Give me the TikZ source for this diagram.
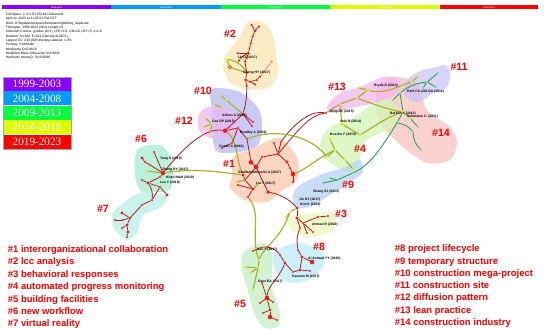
\documentclass[tikz,border=0pt]{standalone}
\usepackage{fontspec}
\setmainfont{Liberation Sans}
\newfontfamily\yearfont{Liberation Serif}
\usepackage{tikz}
\usetikzlibrary{positioning}

\definecolor{dotred}{RGB}{235,25,25}
\definecolor{dotyellow}{RGB}{222,240,0}
\definecolor{dotgreen}{RGB}{40,220,70}
\definecolor{linkred}{RGB}{170,25,25}
\definecolor{linkolive}{RGB}{168,178,50}
\definecolor{linkgreen}{RGB}{35,160,70}
\definecolor{yrpurple}{RGB}{140,0,255}
\definecolor{yrblue}{RGB}{0,155,255}
\definecolor{yrgreen}{RGB}{0,255,60}
\definecolor{yryellow}{RGB}{220,255,0}
\definecolor{yrred}{RGB}{255,0,0}

\begin{document}
\begin{tikzpicture}[
      x=0.5mm, y=-0.5mm,
      dot/.style={circle, fill=dotred, inner sep=0pt, minimum size=3.5pt},
      bigdot/.style={dot, minimum size=6.5pt},
      ydot/.style={dot, fill=dotyellow},
      gdot/.style={dot, fill=dotgreen, minimum size=2.8pt},
      redlink/.style={draw=linkred, line width=1.1pt},
      olivelink/.style={draw=linkolive, line width=1.7pt},
      greenlink/.style={draw=linkgreen, line width=1.2pt},
      hull/.style={fill opacity=0.75},
      clabel/.style={text=red, font=\bfseries\fontsize{15}{15}\selectfont},
      nlabel/.style={anchor=west, inner sep=0pt, font=\bfseries\fontsize{4.8}{5}\selectfont},
      item/.style={anchor=west, inner sep=0pt, text=red, text height=1.2ex, text depth=0.3ex,
                   font=\bfseries\fontsize{13.5}{14}\selectfont},
      yearbox/.style={minimum width=33.7mm, minimum height=7.07mm, inner sep=0pt, text=white,
                      font=\yearfont\fontsize{16}{16}\selectfont},
      barpart/.style={minimum width=54.6mm, minimum height=2.1mm, inner sep=0pt, text=white,
                      font=\fontsize{3.5}{3.5}\selectfont}
  ]
      \useasboundingbox (0,0) rectangle (550,330);
      \fill[white] (0,0) rectangle (550,330);

      % Time bar
      \node[barpart, fill=yrpurple] (T1) at (56.6,7.4) {1999-2003};
      \node[barpart, fill=yrblue, right=0pt of T1] (T2) {2004-2008};
      \node[barpart, fill=yrgreen, right=0pt of T2] (T3) {2009-2013};
      \node[barpart, fill=yryellow, right=0pt of T3] (T4) {2014-2018};
      \node[barpart, fill=yrred, right=0pt of T4, minimum width=49.2mm] (T5) {2019-2023};

      % Run details
      \node[anchor=north west, inner sep=0pt, align=left, font=\fontsize{4.7}{6.2}\selectfont] (info) at (5.8,12.8)
        {CiteSpace, v. 6.2.R1 (64-bit) Advanced\\
         April 11, 2023 at 11:55:51 PM CST\\
         WoS: D:\textbackslash Mydata\textbackslash citespace\textbackslash templanning\textbackslash library\_duplicate\\
         Timespan: 1999-2023 (Slice Length=5)\\
         Selection Criteria: g-index (k=5), LRF=3.0, L/N=10, LBY=5, e=1.0\\
         Network: N=294, E=312 (Density=0.0072)\\
         Largest CC: 243 (82\%)Nodes Labeled: 1.0\%\\
         Pruning: Pathfinder\\
         Modularity Q=0.8618\\
         Weighted Mean Silhouette S=0.9631\\
         Harmonic Mean(Q, S)=0.9096};

      % Year legend
      \node[yearbox, fill=yrpurple] (Y1) at (37,84) {1999-2003};
      \node[yearbox, fill=yrblue, below=0pt of Y1] (Y2) {2004-2008};
      \node[yearbox, fill=yrgreen, below=0pt of Y2] (Y3) {2009-2013};
      \node[yearbox, fill=yryellow, below=0pt of Y3] (Y4) {2014-2018};
      \node[yearbox, fill=yrred, below=0pt of Y4] (Y5) {2019-2023};
      \draw[gray!70, line width=0.4pt] (Y1.north west) rectangle (Y5.south east);

      % Cluster areas
      \fill[hull, fill={rgb,255:red,252;green,230;blue,180}] plot[smooth cycle] coordinates
        {(248,22) (263,22) (272,33) (277,60) (278,73) (270,87) (253,90) (238,87) (228,80) (223,67) (227,52) (238,40)};
      \fill[hull, fill={rgb,255:red,185;green,185;blue,245}] plot[smooth cycle] coordinates
        {(215,88) (240,92) (258,108) (262,125) (258,145) (240,152) (218,152) (213,140) (212,110) (210,95)};
      \fill[hull, fill={rgb,255:red,235;green,185;blue,245}] plot[smooth cycle] coordinates
        {(205,108) (222,106) (237,115) (238,130) (228,138) (210,138) (199,130) (198,117)};
      \fill[hull, fill={rgb,255:red,250;green,200;blue,170}] plot[smooth cycle] coordinates
        {(232,177) (233,157) (252,149) (270,140) (280,138) (290,147) (298,160) (297,180) (283,190) (267,202) (245,200) (230,188)};
      \fill[hull, fill={rgb,255:red,165;green,236;blue,210}] plot[smooth cycle] coordinates
        {(137,150) (160,145) (170,157) (173,173) (170,190) (155,192) (142,192) (135,177)};
      \fill[hull, fill={rgb,255:red,185;green,240;blue,232}] plot[smooth cycle] coordinates
        {(113,212) (127,200) (140,193) (155,193) (167,197) (160,208) (143,215) (137,233) (127,240) (115,230) (112,220)};
      \fill[hull, fill={rgb,255:red,248;green,195;blue,193}] plot[smooth cycle] coordinates
        {(377,87) (393,77) (417,83) (427,110) (450,127) (457,143) (450,160) (427,163) (403,147) (383,127) (377,113)};
      \fill[hull, fill={rgb,255:red,210;green,245;blue,180}] plot[smooth cycle] coordinates
        {(320,143) (330,127) (350,120) (380,100) (397,107) (393,127) (367,140) (357,167) (347,172) (327,160)};
      \fill[hull, fill={rgb,255:red,245;green,182;blue,240}] plot[smooth cycle] coordinates
        {(327,107) (340,93) (360,87) (383,77) (400,80) (397,93) (383,100) (367,105) (350,108) (333,113)};
      \fill[hull, fill={rgb,255:red,205;green,195;blue,250}] plot[smooth cycle] coordinates
        {(410,77) (423,70) (437,67) (445,65) (450,73) (447,87) (433,93) (420,102) (410,100) (403,90)};
      \fill[hull, fill={rgb,255:red,185;green,210;blue,245}] plot[smooth cycle] coordinates
        {(293,195) (300,185) (320,175) (345,167) (360,160) (363,172) (350,182) (330,195) (310,207) (295,207)};
      \fill[hull, fill={rgb,255:red,240;green,248;blue,192}] plot[smooth cycle] coordinates
        {(290,217) (333,213) (333,230) (313,237) (293,232)};
      \fill[hull, fill={rgb,255:red,188;green,236;blue,248}] plot[smooth cycle] coordinates
        {(273,257) (283,247) (300,243) (320,250) (325,263) (313,277) (297,283) (283,280) (275,270)};
      \fill[hull, fill={rgb,255:red,195;green,240;blue,195}] plot[smooth cycle] coordinates
        {(243,253) (263,243) (272,253) (272,287) (280,313) (277,327) (263,327) (253,310) (247,287) (242,270)};

      % Cluster #2
      \node[dot] (B1) at (251.7,25) {};
      \node[dot] (B2) at (259,26.7) {};
      \node[dot, minimum size=4.5pt] (B3) at (255,30.7) {};
      \node[dot] (B4) at (252.7,36.7) {};
      \node[dot] (B5) at (250.7,43.3) {};
      \node[dot, minimum size=4.5pt] (B6) at (248.3,53.3) {};
      \node[dot] (B7) at (237.7,53.3) {};
      \node[dot] (B8) at (241,57.3) {};
      \node[dot] (B9) at (239,60.7) {};
      \node[dot] (B10) at (245,61.7) {};
      \node[dot, fill=dotred!60] (B11) at (271.7,61.7) {};
      \node[ydot] (B12) at (226.7,59.3) {};
      \node[ydot, minimum size=5pt, draw=dotred, line width=0.6pt] (B13) at (230,67.3) {};
      \node[dot, minimum size=4.5pt] (B14) at (246.7,72.7) {};
      \node[dot, minimum size=4.5pt] (B15) at (245.7,80) {};
      \node[dot] (B16) at (250,81.7) {};
      \node[dot] (B17) at (256.7,80) {};
      \node[dot] (B18) at (260,76.7) {};
      \node[dot] (B19) at (255,84.3) {};
      \node[dot] (B20) at (246.7,86) {};

      % Clusters #10 and #12
      \node[dot, minimum size=4.5pt] (K1) at (243,114) {};
      \node[ydot] (K2) at (220,95) {};
      \node[ydot] (K3) at (226,100) {};
      \node[ydot] (K4) at (214,104) {};
      \node[ydot] (K5) at (222,108) {};
      \node[dot] (K6) at (253,122) {};
      \node[bigdot] (L1) at (225,130.7) {};
      \node[ydot] (L2) at (205,118) {};
      \node[ydot] (L3) at (203,127) {};
      \node[ydot] (L4) at (212,124) {};
      \node[ydot] (L5) at (210,134) {};
      \node[dot] (M1) at (238,128) {};
      \node[dot] (M2) at (247,139) {};
      \node[dot] (M3) at (232,143) {};
      \node[dot] (M4) at (222,148) {};
      \node[dot] (M5) at (252,126) {};

      % Cluster #1
      \node[bigdot] (A1) at (251,162.3) {};
      \node[bigdot] (A2) at (256,167) {};
      \node[dot, minimum size=4.5pt] (A3) at (243,175) {};
      \node[dot, minimum size=4.5pt] (A4) at (278,154) {};
      \node[dot, minimum size=4.5pt] (A5) at (287,162) {};
      \node[dot] (A6) at (290,168) {};
      \node[bigdot] (A7) at (293,174) {};
      \node[dot] (A8) at (274,143) {};
      \node[dot] (A9) at (281,142) {};
      \node[dot, minimum size=5pt] (A10) at (268,192) {};
      \node[dot, minimum size=4.5pt] (A11) at (253,189) {};
      \node[dot] (A12) at (238,185) {};
      \node[dot] (A13) at (245,180) {};
      \node[dot] (A14) at (262,157) {};
      \node[dot] (A15) at (248,197) {};
      \node[dot] (A16) at (293,182) {};
      \node[ydot] (A17) at (236,182) {};
      \node[ydot] (A18) at (259,183) {};

      % Clusters #6 and #7
      \node[dot] (F1) at (154,152) {};
      \node[dot, minimum size=4.5pt] (F2) at (142,158) {};
      \node[dot] (F3) at (145,162) {};
      \node[dot] (F4) at (150,165) {};
      \node[bigdot] (F5) at (163,173) {};
      \node[dot] (F6) at (160,177) {};
      \node[dot, minimum size=4.5pt] (F7) at (148,183) {};
      \node[dot] (F8) at (142,180) {};
      \node[dot] (F9) at (160,187) {};
      \node[dot, minimum size=4.5pt] (F10) at (167,195) {};
      \node[ydot] (F11) at (147,171) {};
      \node[dot] (Q1) at (152,200) {};
      \node[dot] (Q2) at (142,205) {};
      \node[dot, minimum size=4.5pt] (Q3) at (130,218) {};
      \node[dot, minimum size=4.5pt] (Q4) at (122,213) {};
      \node[dot] (Q5) at (123,220) {};
      \node[dot, minimum size=4.5pt] (Q6) at (127,225) {};
      \node[dot] (Q7) at (122,228) {};
      \node[dot, minimum size=4.5pt] (Q8) at (128,232) {};
      \node[dot] (Q9) at (127,237) {};
      \node[dot] (Q10) at (115,220) {};

      % Clusters #13, #4, #14, #11
      \node[dot] (H1) at (326,113) {};
      \node[ydot] (H2) at (340,104) {};
      \node[ydot] (H3) at (357,98) {};
      \node[ydot, minimum size=5.5pt] (H4) at (368,90) {};
      \node[ydot] (H5) at (358,88) {};
      \node[ydot, minimum size=5.5pt] (D1) at (342,124) {};
      \node[ydot, minimum size=4.5pt] (D2) at (330,139) {};
      \node[ydot] (D3) at (335,150) {};
      \node[ydot] (D4) at (327,157) {};
      \node[ydot] (D5) at (345,160) {};
      \node[ydot, minimum size=4.5pt] (D6) at (353,169) {};
      \node[ydot] (D7) at (360,135) {};
      \node[ydot, minimum size=5.5pt] (G1) at (403,112) {};
      \node[gdot, minimum size=3.8pt] (G2) at (397,123) {};
      \node[ydot, minimum size=4.5pt] (G3) at (410,118) {};
      \node[gdot] (G4) at (400,93) {};
      \node[gdot] (G5) at (393,100) {};
      \node[gdot] (G6) at (421,150) {};
      \node[gdot] (G7) at (413,132) {};
      \node[gdot] (G9) at (418,127) {};
      \node[gdot] (I1) at (438,73) {};
      \node[gdot] (I2) at (427,82) {};
      \node[gdot] (I3) at (423,88) {};
      \node[gdot] (I4) at (436,87) {};
      \node[ydot] (I5) at (412,82) {};
      \node[ydot] (I6) at (418,76) {};

      % Clusters #9, #3
      \node[gdot] (J1) at (323,183) {};
      \node[gdot, minimum size=3.8pt] (J2) at (337,180) {};
      \node[gdot] (J3) at (353,173) {};
      \node[gdot] (J4) at (330,178) {};
      \node[dot, minimum size=4.5pt] (C1) at (297,208) {};
      \node[dot, minimum size=4.5pt] (C2) at (297,218) {};
      \node[dot] (C3) at (303,223) {};
      \node[dot] (C4) at (318,217) {};
      \node[dot] (C5) at (328,216) {};
      \node[dot] (C6) at (313,232) {};
      \node[dot] (C7) at (307,233) {};
      \node[dot] (C8) at (300,228) {};
      \node[ydot] (C9) at (290,212) {};
      \node[ydot] (C10) at (286,218) {};

      % Clusters #8, #5
      \node[dot] (P1) at (298,250) {};
      \node[dot, minimum size=4.5pt] (P2) at (302,257) {};
      \node[bigdot] (P3) at (312,262) {};
      \node[dot, minimum size=4.5pt] (P4) at (300,270) {};
      \node[dot] (P5) at (293,272) {};
      \node[dot, minimum size=4.5pt] (P6) at (285,263) {};
      \node[dot] (P7) at (280,255) {};
      \node[dot] (P8) at (310,271) {};
      \node[dot] (E1) at (258,249) {};
      \node[dot] (E2) at (253,251) {};
      \node[dot] (E3) at (262,283) {};
      \node[bigdot] (E4) at (267,298) {};
      \node[dot, minimum size=4.5pt] (E5) at (270,310) {};
      \node[bigdot] (E6) at (270,317) {};
      \node[dot] (E7) at (263,313) {};
      \node[dot] (E8) at (260,303) {};
      \node[dot] (E9) at (273,302) {};
      \node[dot] (E10) at (277,320) {};
      \node[ydot] (E11) at (245,267) {};
      \node[ydot] (E12) at (250,273) {};
      \node[ydot] (E13) at (258,268) {};
      \node[ydot] (E14) at (253,290) {};
      \node[ydot] (E15) at (259,260) {};

      % Long links
      \draw[redlink] (F5) .. controls (190,140) and (208,128) .. (L1);
      \draw[redlink] (A4) .. controls (300,128) and (310,115) .. (H1);
      \draw[redlink] (A9) .. controls (295,122) and (312,110) .. (H1);
      \draw[olivelink] (F5) .. controls (195,168) and (220,172) .. (A3);
      \draw[olivelink] (M2) .. controls (275,128) and (310,135) .. (D4);
      \draw[olivelink] (A7) .. controls (305,170) and (318,158) .. (D3);
      \draw[olivelink] (L1) .. controls (238,140) and (236,160) .. (A3);
      \draw[olivelink] (A15) .. controls (262,215) and (250,235) .. (E15);
      \draw[olivelink] (C9) .. controls (280,240) and (265,245) .. (E15);
      \draw[olivelink] (H3) .. controls (375,105) and (390,110) .. (G1);
      \draw[olivelink] (D7) .. controls (372,128) and (385,118) .. (G1);
      \draw[olivelink] (H4) .. controls (385,95) and (400,85) .. (I5);
      \draw[greenlink] (G2) .. controls (380,150) and (370,165) .. (J3);
      \draw[redlink] (A10) .. controls (282,195) and (290,200) .. (C1);
      \draw[redlink] (C8) .. controls (296,238) and (297,244) .. (P1);
      \draw[redlink] (P6) .. controls (278,280) and (268,285) .. (E4);
      \draw[redlink] (E1) .. controls (265,245) and (275,248) .. (P7);

      % Links within clusters
      \draw[redlink] (B1) -- (B3);
      \draw[redlink] (B2) -- (B3);
      \draw[redlink] (B3) -- (B4);
      \draw[redlink] (B4) -- (B5);
      \draw[redlink] (B5) -- (B6);
      \draw[redlink] (B6) -- (B8);
      \draw[redlink] (B8) -- (B9);
      \draw[redlink] (B6) -- (B7);
      \draw[redlink] (B6) -- (B10);
      \draw[redlink] (B10) -- (B14);
      \draw[redlink] (B14) -- (B15);
      \draw[redlink] (B15) -- (B16);
      \draw[redlink] (B16) -- (B17);
      \draw[redlink] (B17) -- (B18);
      \draw[redlink] (B16) -- (B19);
      \draw[redlink] (B15) -- (B20);
      \draw[redlink, draw=dotred!50] (B11) -- (B18);
      \draw[olivelink] (B12) -- (B13);
      \draw[olivelink] (B13) -- (B14);
      \draw[olivelink] (B12) to[bend left=25] (B14);
      \draw[redlink] (B20) to[bend left=8] (K1);
      \draw[redlink] (K1) -- (K6);
      \draw[redlink] (K1) -- (M5);
      \draw[redlink] (K1) -- (L1);
      \draw[redlink] (L1) -- (M1);
      \draw[redlink] (M1) -- (M2);
      \draw[redlink] (M1) -- (M3);
      \draw[redlink] (M3) -- (M4);
      \draw[redlink] (M2) -- (A1);
      \draw[olivelink] (K2) -- (K3);
      \draw[olivelink] (K3) -- (K1);
      \draw[olivelink] (K4) -- (K5);
      \draw[olivelink] (L2) -- (L4);
      \draw[olivelink] (L3) -- (L4);
      \draw[olivelink] (L4) -- (L5);
      \draw[redlink] (A1) -- (A2);
      \draw[redlink] (A2) -- (A14);
      \draw[redlink] (A14) -- (A4);
      \draw[redlink] (A4) -- (A8);
      \draw[redlink] (A4) -- (A9);
      \draw[redlink] (A4) -- (A5);
      \draw[redlink] (A5) -- (A6);
      \draw[redlink] (A6) -- (A7);
      \draw[redlink] (A2) -- (A13);
      \draw[redlink] (A13) -- (A3);
      \draw[redlink] (A13) -- (A11);
      \draw[redlink] (A11) -- (A12);
      \draw[redlink] (A11) -- (A15);
      \draw[redlink] (A2) -- (A10);
      \draw[redlink] (A7) -- (A16);
      \draw[olivelink] (A17) -- (A13);
      \draw[olivelink] (A18) -- (A11);
      \draw[redlink] (F1) -- (F5);
      \draw[redlink] (F2) -- (F3);
      \draw[redlink] (F3) -- (F4);
      \draw[redlink] (F4) -- (F5);
      \draw[redlink] (F5) -- (F6);
      \draw[redlink] (F6) -- (F7);
      \draw[redlink] (F7) -- (F8);
      \draw[redlink] (F7) -- (F9);
      \draw[redlink] (F9) -- (F10);
      \draw[olivelink] (F11) -- (F5);
      \draw[redlink] (F7) to[bend left=20] (Q1);
      \draw[redlink] (F9) -- (Q1);
      \draw[redlink] (Q1) -- (Q2);
      \draw[redlink] (Q2) -- (Q3);
      \draw[redlink] (Q3) -- (Q4);
      \draw[redlink] (Q3) -- (Q5);
      \draw[redlink] (Q3) -- (Q6);
      \draw[redlink] (Q6) -- (Q7);
      \draw[redlink] (Q6) -- (Q8);
      \draw[redlink] (Q8) -- (Q9);
      \draw[redlink] (Q5) -- (Q10);
      \draw[olivelink] (H1) -- (H2);
      \draw[olivelink] (H2) -- (H3);
      \draw[olivelink] (H3) -- (H4);
      \draw[olivelink] (H4) -- (H5);
      \draw[olivelink] (H2) -- (D1);
      \draw[olivelink] (D1) -- (D7);
      \draw[olivelink] (D2) -- (D3);
      \draw[olivelink] (D3) -- (D4);
      \draw[olivelink] (D3) -- (D5);
      \draw[olivelink] (D5) -- (D6);
      \draw[greenlink] (G1) -- (G4);
      \draw[greenlink] (G4) -- (G5);
      \draw[greenlink] (G1) -- (G3);
      \draw[greenlink] (G3) -- (G9);
      \draw[greenlink] (G1) -- (G2);
      \draw[greenlink] (G2) to[bend left=20] (G7);
      \draw[greenlink] (G7) to[bend right=20] (G6);
      \draw[greenlink] (G4) to[bend left=15] (I2);
      \draw[greenlink] (I2) -- (I1);
      \draw[greenlink] (I2) -- (I4);
      \draw[greenlink] (I2) -- (I3);
      \draw[olivelink] (I5) -- (I6);
      \draw[greenlink] (J3) -- (J2);
      \draw[greenlink] (J2) -- (J4);
      \draw[greenlink] (J2) -- (J1);
      \draw[redlink] (C1) -- (C2);
      \draw[redlink] (C2) -- (C3);
      \draw[redlink] (C3) -- (C4);
      \draw[redlink] (C4) -- (C5);
      \draw[redlink] (C3) -- (C6);
      \draw[redlink] (C3) -- (C7);
      \draw[redlink] (C2) -- (C8);
      \draw[olivelink] (C9) -- (C10);
      \draw[olivelink] (C9) -- (C1);
      \draw[redlink] (P1) -- (P2);
      \draw[redlink] (P2) -- (P3);
      \draw[redlink] (P2) -- (P4);
      \draw[redlink] (P4) -- (P5);
      \draw[redlink] (P5) -- (P6);
      \draw[redlink] (P6) -- (P7);
      \draw[redlink] (P4) -- (P8);
      \draw[redlink] (E2) -- (E1);
      \draw[redlink] (E3) -- (E4);
      \draw[redlink] (E4) -- (E5);
      \draw[redlink] (E5) -- (E6);
      \draw[redlink] (E5) -- (E7);
      \draw[redlink] (E4) -- (E8);
      \draw[redlink] (E4) -- (E9);
      \draw[redlink] (E6) -- (E10);
      \draw[olivelink] (E15) -- (E13);
      \draw[olivelink] (E13) -- (E11);
      \draw[olivelink] (E13) -- (E12);
      \draw[olivelink] (E13) -- (E14);

      % Cited reference labels
      \node[nlabel] (nLiYJ) at (238,57.3) {Li YJ (2017)};
      \node[nlabel] (nChengHY) at (243,72.3) {Cheng HY (2017)};
      \node[nlabel] (nAibinu) at (222,116) {Aibinu A (2014)};
      \node[nlabel] (nCaoDP) at (212,121.3) {Cao DP (2015)};
      \node[nlabel] (nBradley) at (240,133) {Bradley A (2016)};
      \node[nlabel] (nCostin) at (219,147) {Costin A (2016)};
      \node[nlabel] (nGhaffar) at (238,172.3) {Ghaffarianhoseini A (2017)};
      \node[nlabel] (nLiuY) at (256,184) {Liu Y (2017)};
      \node[nlabel] (nTangS) at (160,158.3) {Tang S (2019)};
      \node[nlabel] (nZhangRY) at (162,170) {Zhang RY (2017)};
      \node[nlabel] (nKhanNAM) at (166,178) {Khan NAM (2019)};
      \node[nlabel] (nLeeY) at (160,182.3) {Lee Y (2019)};
      \node[nlabel] (nDingZK) at (330,111.7) {Ding ZK (2015)};
      \node[nlabel] (nVolkR) at (340,121.7) {Volk R (2014)};
      \node[nlabel] (nBoscheF) at (330,135) {Bosche F (2015)};
      \node[nlabel] (nBrydeD) at (374,86) {Bryde D (2013)};
      \node[nlabel] (nParkCS) at (407,92) {Park CS (2013)A (2012)};
      \node[nlabel] (nBarlishK) at (390,113.3) {Barlish K (2012)};
      \node[nlabel] (nSebastian) at (407,116.7) {Sebastian C. (2011)};
      \node[nlabel] (nZhangSJ) at (313,191.7) {Zhang SJ (2013)};
      \node[nlabel] (nJinRY) at (299,199.3) {Jin RY (2017)};
      \node[nlabel] (nKimK) at (300,204.5) {Kim K (2016)};
      \node[nlabel] (nAhmadR) at (312,225) {Ahmad R (2020)};
      \node[nlabel] (nZouY) at (257,249.3) {Zou Y (2017)};
      \node[nlabel] (nAlAshwal) at (308,258.3) {Al Ashwal YY (2020)};
      \node[nlabel] (nKassemM) at (292,276.7) {Kassem M (2017)};
      \node[nlabel] (nDaveEA) at (258,282) {Dave EA (2017)};

      % Cluster labels
      \node[clabel] (c2) at (230,33.7) {\#2};
      \node[clabel] (c10) at (203,91) {\#10};
      \node[clabel] (c12) at (184,121) {\#12};
      \node[clabel] (c1) at (229,164) {\#1};
      \node[clabel] (c6) at (141,138.5) {\#6};
      \node[clabel] (c7) at (103,209) {\#7};
      \node[clabel] (c13) at (337,87) {\#13};
      \node[clabel] (c11) at (459,67) {\#11};
      \node[clabel] (c14) at (441,133) {\#14};
      \node[clabel] (c4) at (360,149) {\#4};
      \node[clabel] (c9) at (348,185) {\#9};
      \node[clabel] (c3) at (341,214) {\#3};
      \node[clabel] (c8) at (319,247) {\#8};
      \node[clabel] (c5) at (240,304) {\#5};

      % Cluster names
      \node[item] (k1) at (7.7,250.9) {\#1 interorganizational collaboration};
      \node[item] (k2) at (7.7,263.3) {\#2 lcc analysis};
      \node[item] (k3) at (7.7,275.6) {\#3 behavioral responses};
      \node[item] (k4) at (7.7,288) {\#4 automated progress monitoring};
      \node[item] (k5) at (7.7,300.4) {\#5 building facilities};
      \node[item] (k6) at (7.7,312.8) {\#6 new workflow};
      \node[item] (k7) at (7.7,325.1) {\#7 virtual reality};
      \node[item] (k8) at (394.7,250.2) {\#8 project lifecycle};
      \node[item] (k9) at (394.7,262.5) {\#9 temporary structure};
      \node[item] (k10) at (394.7,274.7) {\#10 construction mega-project};
      \node[item] (k11) at (394.7,286.8) {\#11 construction site};
      \node[item] (k12) at (394.7,299.2) {\#12 diffusion pattern};
      \node[item] (k13) at (394.7,311.6) {\#13 lean practice};
      \node[item] (k14) at (394.7,323.9) {\#14 construction industry};
  \end{tikzpicture}
\end{document}
